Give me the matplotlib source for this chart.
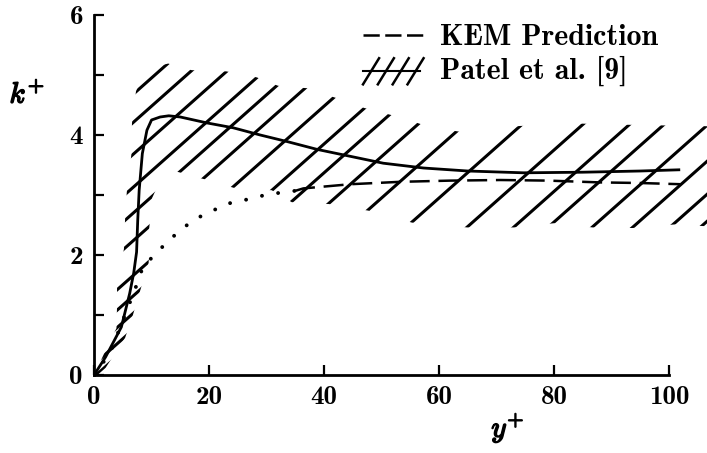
import numpy as np
import matplotlib
matplotlib.use("Agg")
import matplotlib.pyplot as plt
from matplotlib.patches import Polygon
from matplotlib.lines import Line2D
from matplotlib.legend_handler import HandlerBase
import matplotlib.patheffects as pe

plt.rcParams['font.family'] = 'cmb10'
plt.rcParams['mathtext.fontset'] = 'cm'
plt.rcParams['axes.unicode_minus'] = False

# solid curve (unlabelled)
solid_x = [0, 2.0, 4.75, 6.2, 6.9, 7.4, 7.6, 7.85, 8.4, 9.2, 10.0, 11.5, 13.0, 15.0, 19.7,
           24.2, 28.9, 33.6, 38.8, 44.3, 50.3, 57.3, 65.0, 74.7, 85.0, 95.0, 101.7]
solid_y = [0, 0.3, 0.8, 1.36, 1.7, 2.05, 2.58, 3.08, 3.69, 4.08, 4.25, 4.3, 4.32, 4.3, 4.2,
           4.12, 4.0, 3.89, 3.76, 3.65, 3.53, 3.45, 3.4, 3.37, 3.38, 3.40, 3.42]

# dotted curve (unlabelled)
dot_x = [0, 2.8, 4.8, 7.1, 8.6, 10.6, 12.4, 14.5, 16.7, 19.0, 20.9, 22.8, 25.1, 27.2,
         28.9, 30.7, 32.7, 35.0]
dot_y = [0, 0.37, 0.86, 1.42, 1.83, 2.0, 2.19, 2.37, 2.54, 2.67, 2.75, 2.85, 2.89, 2.94,
         2.98, 3.02, 3.04, 3.07]

# KEM prediction (dashed)
kem_x = [35.0, 36.4, 44.6, 53.3, 62.0, 70.7, 79.0, 88.0, 95.0, 102.0]
kem_y = [3.07, 3.11, 3.18, 3.22, 3.24, 3.25, 3.24, 3.21, 3.20, 3.18]

# Patel et al. band: lower/right edge and upper/left edge
band_low_x = [0, 2.0, 5.4, 6.6, 8.0, 9.5, 9.6, 10.1, 12.0, 14.0, 19.3, 24.3, 30.9, 34.4,
              40.8, 47.7, 55.3, 64.9, 73.0, 80.0, 86.7, 93.6, 101.0, 110.0]
band_low_y = [-0.05, 0.12, 0.62, 0.95, 1.40, 1.87, 2.45, 2.95, 3.35, 3.40, 3.26, 3.12, 3.08,
              2.88, 2.85, 2.74, 2.54, 2.46, 2.46, 2.53, 2.46, 2.45, 2.51, 2.46]
band_up_x = [0, 2.2, 3.9, 4.0, 4.0, 5.2, 5.4, 5.7, 6.5, 6.6, 7.3, 9.0, 12.9, 17.0, 23.0,
             28.3, 32.0, 37.0, 42.0, 47.0, 53.0, 58.5, 64.6, 74.0, 84.5, 93.0, 110.0]
band_up_y = [0, 0.45, 0.78, 1.14, 1.5, 2.1, 2.6, 3.05, 3.68, 4.2, 4.73, 5.1, 5.19, 5.08, 5.06,
             4.96, 4.82, 4.78, 4.62, 4.45, 4.3, 4.13, 4.04, 4.15, 4.19, 4.17, 4.14]

# hatch lines: k+ = b + slope * y+
hatch_slope = 0.085
hatch_b = [4.10, 3.63, 3.10, 2.55, 2.12, 1.66, 1.08, 0.45, -0.03, -0.61, -1.30, -2.15,
           -3.05, -3.74, -4.25, -4.90, -5.50, -6.05, -6.50]
wall_hatch_b = [0.74, 0.18]   # extra short ones near the wall


class HatchHandler(HandlerBase):
    def create_artists(self, legend, orig_handle, xdescent, ydescent, width, height,
                       fontsize, trans):
        x0, y0 = -xdescent, -ydescent
        arts = [Line2D([x0, x0 + 0.93 * width], [y0 + 0.4 * height] * 2,
                       color='k', lw=1.5, transform=trans)]
        for i in range(4):
            xa = x0 + width * 0.24 * i
            arts.append(Line2D([xa, xa + 0.26 * width],
                               [y0 - 0.25 * height, y0 + 1.0 * height],
                               color='k', lw=1.8, transform=trans))
        return arts


fig = plt.figure(figsize=(7.07, 4.53), dpi=100)
ax = fig.add_axes([0.133, 0.172, 0.867, 0.795])

pts = np.column_stack([band_low_x + band_up_x[::-1], band_low_y + band_up_y[::-1]])
band = Polygon(pts, closed=True, fill=False, edgecolor='none', label='Patel et al. [9]')
ax.add_patch(band)

for b in hatch_b:
    xx = np.array([0.0, 110.0])
    ln, = ax.plot(xx, b + hatch_slope * xx, color='k', lw=2.2)
    ln.set_clip_path(band)
for b in wall_hatch_b:
    xx = np.array([0.0, 12.0])
    ln, = ax.plot(xx, b + hatch_slope * xx, color='k', lw=2.2)
    ln.set_clip_path(band)

ax.plot(solid_x, solid_y, color='k', lw=2.0, solid_joinstyle='round')
ax.plot(dot_x, dot_y, color='k', lw=2.8, linestyle=(0, (0.01, 4.2)), dash_capstyle='round')
ax.plot(kem_x, kem_y, color='k', lw=1.8, linestyle=(0, (8, 3.5)))

ax.set_xlim(0, 106.6)
ax.set_ylim(0, 6)
for s in ['top', 'right']:
    ax.spines[s].set_visible(False)
ax.spines['bottom'].set_bounds(0, 100)
ax.spines['left'].set_bounds(0, 6)
ax.spines['bottom'].set_linewidth(2.0)
ax.spines['left'].set_linewidth(2.0)

ax.set_xticks([0, 20, 40, 60, 80, 100])
ax.set_yticks([0, 2, 4, 6])
ax.set_yticks([1, 3, 5], minor=True)
ax.tick_params(which='both', direction='in', length=7, width=1.6, labelsize=19.5, pad=8)

xl = ax.set_xlabel(r'$y^{+}$', fontsize=21)
ax.xaxis.set_label_coords(0.675, -0.1)
yl = ax.set_ylabel(r'$k^{+}$', fontsize=21, rotation=0, ha='center', va='center')
ax.yaxis.set_label_coords(-0.109, 0.778)
for t in (xl, yl):
    t.set_path_effects([pe.withStroke(linewidth=1.1, foreground='k')])

kem_proxy = Line2D([], [], color='k', lw=1.8, linestyle=(0, (6.5, 2.2)), label='KEM Prediction')
ax.legend(handles=[kem_proxy, band], loc='upper left',
          bbox_to_anchor=(363 / 707, 1 - 24 / 453), bbox_transform=fig.transFigure,
          frameon=False, borderpad=0, borderaxespad=0, handlelength=2.07,
          handletextpad=0.5, labelspacing=0.17, fontsize=21.5,
          handler_map={Polygon: HatchHandler()})

fig.savefig('out.png', dpi=100)
